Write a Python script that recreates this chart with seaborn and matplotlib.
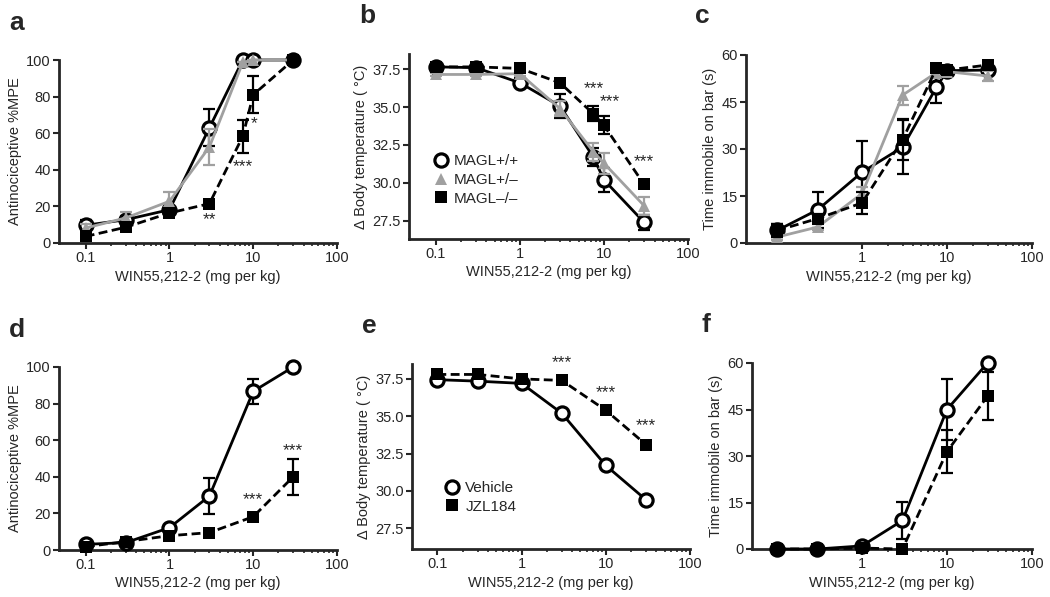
import matplotlib
matplotlib.use("Agg")
import matplotlib.pyplot as plt
import matplotlib.ticker as mticker
from matplotlib.lines import Line2D
import seaborn as sns
import pandas as pd

sns.set_style("ticks")
plt.rcParams['font.family'] = ['Liberation Sans', 'DejaVu Sans']

# -------------------------------------------------------
# Data (means and SE)
# -------------------------------------------------------
dose_ko = [0.1, 0.3, 1, 3, 7.5, 10, 30]
dose_jzl = [0.1, 0.3, 1, 3, 10, 30]

# a: antinociception, MAGL genotypes
a_wt = [9.7, 12.7, 18.2, 63, 100, 100, 100]
a_wt_se = [3, 2, 2, 10, 0, 0, 0]
a_het = [8.2, 13.7, 22.8, 52.5, 98.7, 100, 100]
a_het_se = [2, 3, 5, 10, 0, 0, 0]
a_ko = [3.6, 8.6, 16.4, 21.5, 58.3, 81, 100]
a_ko_se = [1, 1.5, 1.5, 1.5, 9, 10, 0]

# b: body temperature, MAGL genotypes
b_wt = [37.65, 37.6, 36.6, 35.07, 31.7, 30.2, 27.4]
b_wt_se = [0.15, 0.15, 0.3, 0.8, 0.6, 0.8, 0.5]
b_het = [37.15, 37.15, 37.2, 34.9, 32.05, 31.3, 28.5]
b_het_se = [0.1, 0.1, 0.15, 0.5, 0.6, 0.7, 0.6]
b_ko = [37.65, 37.65, 37.55, 36.6, 34.55, 33.8, 29.9]
b_ko_se = [0.15, 0.15, 0.15, 0.2, 0.5, 0.6, 0.2]

# c: catalepsy, MAGL genotypes
c_wt = [4.0, 10.6, 22.6, 30.6, 49.7, 55, 55.2]
c_wt_se = [2, 5.7, 10, 8.5, 5, 1, 1]
c_het = [1.9, 5.1, 15.8, 47.2, 54.4, 54.7, 53.3]
c_het_se = [1, 1, 2, 3, 1, 1, 1.5]
c_ko = [4.0, 7.8, 12.8, 33, 55.8, 55.2, 56.8]
c_ko_se = [2, 1.5, 3.5, 6.5, 1, 1, 1]

# d-f: vehicle vs JZL184
d_veh = [3.1, 4.0, 12.2, 29.5, 86.7, 100]
d_veh_se = [1, 1, 1.5, 10, 6.7, 0]
d_jzl = [1.8, 4.6, 7.8, 9.5, 18.2, 40]
d_jzl_se = [0.5, 1, 1, 1, 1.5, 9.8]

e_veh = [37.45, 37.35, 37.2, 35.2, 31.7, 29.4]
e_jzl = [37.8, 37.8, 37.5, 37.4, 35.4, 33.1]

f_veh = [0, 0, 1.0, 9.2, 45, 60]
f_veh_se = [0, 0, 0.5, 6, 9.7, 0]
f_jzl = [0, 0, 0.3, 0, 31.4, 49.3]
f_jzl_se = [0, 0, 0, 0, 7, 7.7]

ko_labels = ["MAGL+/+", "MAGL+/\u2013", "MAGL\u2013/\u2013"]
jzl_labels = ["Vehicle", "JZL184"]

xlabel = "WIN55,212-2 (mg per kg)"
ylab_mpe = "Antinociceptive %MPE"
ylab_temp = "\u0394 Body temperature ( \u00b0C)"
ylab_cat = "Time immobile on bar (s)"

GREY = "#a0a0a0"
styles = {
    "wt": dict(color="black", marker="o", markersize=9.5, markerfacecolor="white",
               markeredgecolor="black", markeredgewidth=2.3, linestyle="-"),
    "het": dict(color=GREY, marker="^", markersize=8.5, markerfacecolor=GREY,
                markeredgecolor=GREY, markeredgewidth=0, linestyle="-"),
    "ko": dict(color="black", marker="s", markersize=8.5, markerfacecolor="black",
               markeredgecolor="black", markeredgewidth=0, linestyle=(0, (3.2, 1.6))),
}

W, H = 1050, 597
fig = plt.figure(figsize=(W / 100, H / 100), dpi=100)


def make_ax(left, right, top, bottom):
    return fig.add_axes([left / W, 1 - bottom / H, (right - left) / W, (bottom - top) / H])


def draw(ax, x, y, se, key, zorder):
    st = styles[key]
    df = pd.DataFrame({"dose": x, "val": y})
    if se is not None:
        ax.errorbar(x, y, yerr=se, fmt="none", ecolor=st["color"], elinewidth=1.6,
                    capsize=4.5, capthick=1.6, zorder=zorder, clip_on=False)
    sns.lineplot(data=df, x="dose", y="val", ax=ax, linewidth=2, zorder=zorder + 0.5,
                 clip_on=False, **st)


def style_ax(ax, xlim, ylim, yticks, ylabel, letter, short_x=False, yfmt=None):
    ax.set_xscale("log")
    ax.set_xlim(*xlim)
    ax.set_ylim(*ylim)
    ax.set_yticks(yticks)
    if yfmt:
        ax.yaxis.set_major_formatter(mticker.FormatStrFormatter(yfmt))
    if short_x:
        ax.set_xticks([1, 10, 100])
        ax.set_xticks([m * d for d in (1, 10) for m in range(2, 10)], minor=True)
    else:
        ax.set_xticks([0.1, 1, 10, 100])
        ax.set_xticks([m * d for d in (0.1, 1, 10) for m in range(2, 10)], minor=True)
    ax.xaxis.set_major_formatter(mticker.FuncFormatter(lambda v, p: f"{v:g}"))
    ax.xaxis.set_minor_formatter(mticker.NullFormatter())
    sns.despine(ax=ax)
    for s in ("left", "bottom"):
        ax.spines[s].set_linewidth(2)
    ax.tick_params(axis="both", which="major", direction="out", length=4, width=1.5,
                   labelsize=10.5, pad=2)
    ax.tick_params(axis="x", which="minor", direction="out", length=2.5, width=1.2)
    ax.set_xlabel(xlabel, fontsize=10.5, labelpad=3)
    ax.set_ylabel(ylabel, fontsize=10.5, labelpad=3)
    ax.text(-0.18, 1.27, letter, transform=ax.transAxes, fontsize=19,
            fontweight="bold", va="top", ha="left")


def stars(ax, x, y, txt):
    ax.text(x, y, txt, ha="center", va="center", fontsize=12.5)


# ---------------- panel a ----------------
ax = make_ax(59, 337, 60, 243)
draw(ax, dose_ko, a_wt, a_wt_se, "wt", 3)
draw(ax, dose_ko, a_het, a_het_se, "het", 4)
draw(ax, dose_ko, a_ko, a_ko_se, "ko", 5)
style_ax(ax, (0.048, 100), (0, 100), [0, 20, 40, 60, 80, 100], ylab_mpe, "a")
stars(ax, 3, 13, "**")
stars(ax, 7.5, 42, "***")
stars(ax, 10.3, 65, "*")

# ---------------- panel b ----------------
ax = make_ax(409, 688, 54, 239)
draw(ax, dose_ko, b_wt, b_wt_se, "wt", 3)
draw(ax, dose_ko, b_het, b_het_se, "het", 4)
draw(ax, dose_ko, b_ko, b_ko_se, "ko", 5)
style_ax(ax, (0.048, 100), (26.3, 38.5), [27.5, 30.0, 32.5, 35.0, 37.5], ylab_temp, "b",
         yfmt="%.1f")
stars(ax, 7.5, 36.2, "***")
stars(ax, 11.7, 35.35, "***")
stars(ax, 30, 31.4, "***")
handles = [Line2D([], [], linestyle="none", **{k: v for k, v in styles[k2].items()
                                               if k != "linestyle"})
           for k2 in ("wt", "het", "ko")]
ax.legend(handles, ko_labels, loc="upper left", bbox_to_anchor=(0.06, 0.49),
          frameon=False, fontsize=11, handletextpad=0.25, labelspacing=0.3,
          borderaxespad=0, handlelength=1.2)

# ---------------- panel c ----------------
ax = make_ax(746, 1032, 55, 243)
draw(ax, dose_ko, c_wt, c_wt_se, "wt", 3)
draw(ax, dose_ko, c_het, c_het_se, "het", 4)
draw(ax, dose_ko, c_ko, c_ko_se, "ko", 5)
style_ax(ax, (0.043, 100), (0, 60), [0, 15, 30, 45, 60], ylab_cat, "c", short_x=True)

# ---------------- panel d ----------------
ax = make_ax(59, 337, 367, 550)
draw(ax, dose_jzl, d_veh, d_veh_se, "wt", 3)
draw(ax, dose_jzl, d_jzl, d_jzl_se, "ko", 5)
style_ax(ax, (0.048, 100), (0, 100), [0, 20, 40, 60, 80, 100], ylab_mpe, "d")
stars(ax, 10, 27.7, "***")
stars(ax, 30, 54.4, "***")

# ---------------- panel e ----------------
ax = make_ax(412, 690, 364, 549)
draw(ax, dose_jzl, e_veh, None, "wt", 3)
draw(ax, dose_jzl, e_jzl, None, "ko", 5)
style_ax(ax, (0.05, 100), (26.1, 38.5), [27.5, 30.0, 32.5, 35.0, 37.5], ylab_temp, "e",
         yfmt="%.1f")
stars(ax, 3, 38.6, "***")
stars(ax, 10, 36.6, "***")
stars(ax, 30, 34.35, "***")
handles = [Line2D([], [], linestyle="none", **{k: v for k, v in styles[k2].items()
                                               if k != "linestyle"})
           for k2 in ("wt", "ko")]
ax.legend(handles, jzl_labels, loc="upper left", bbox_to_anchor=(0.09, 0.4),
          frameon=False, fontsize=11, handletextpad=0.25, labelspacing=0.3,
          borderaxespad=0, handlelength=1.2)

# ---------------- panel f ----------------
ax = make_ax(752, 1032, 363, 549)
draw(ax, dose_jzl, f_veh, f_veh_se, "wt", 3)
draw(ax, dose_jzl, f_jzl, f_jzl_se, "ko", 5)
style_ax(ax, (0.051, 100), (0, 60), [0, 15, 30, 45, 60], ylab_cat, "f", short_x=True)

fig.savefig("out.png", dpi=100)
